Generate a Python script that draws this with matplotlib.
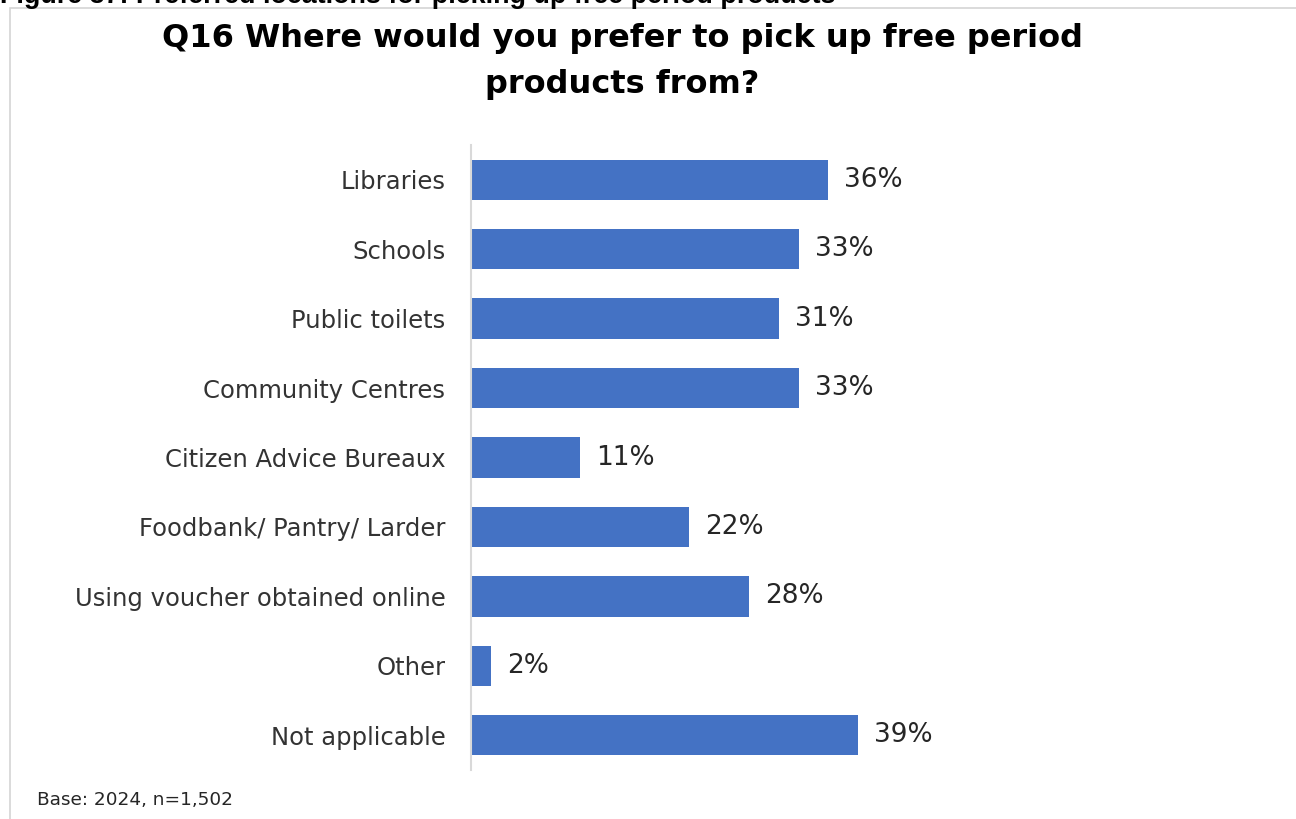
import matplotlib
matplotlib.use("Agg")
import matplotlib.pyplot as plt
from matplotlib.patches import Rectangle

categories = [
    "Libraries",
    "Schools",
    "Public toilets",
    "Community Centres",
    "Citizen Advice Bureaux",
    "Foodbank/ Pantry/ Larder",
    "Using voucher obtained online",
    "Other",
    "Not applicable",
]
values = [36, 33, 31, 33, 11, 22, 28, 2, 39]
value_labels = ["36%", "33%", "31%", "33%", "11%", "22%", "28%", "2%", "39%"]

title_lines = ["Q16 Where would you prefer to pick up free period", "products from?"]
figure_caption = "Figure 37: Preferred locations for picking up free period products"
base_note = "Base: 2024, n=1,502"

W, H = 1296, 819
fig = plt.figure(figsize=(W / 100, H / 100), dpi=100)
fig.patch.set_facecolor("white")
font = ["DejaVu Sans"]

# framed panel behind the chart
fig.patches.append(Rectangle((10 / W, -0.01), 1.0, (H - 8) / H + 0.01,
                             transform=fig.transFigure, fill=False,
                             edgecolor="#d4d4d4", linewidth=1.2))

# caption partially clipped at the top edge
fig.text(0 / W, 1 - 3 / H, figure_caption, ha="left", va="baseline",
         fontsize=19.4, fontweight="bold", color="black",
         family=["Liberation Sans", "DejaVu Sans"])

for txt, yc in zip(title_lines, [38, 85]):
    fig.text(622 / W, 1 - yc / H, txt, ha="center", va="center",
             fontsize=23, fontweight="bold", color="#000000", family=font)

left, right = 471 / W, (471 + 40 * 9.93) / W
top, bottom = 1 - 145 / H, 1 - 770 / H
ax = fig.add_axes([left, bottom, right - left, top - bottom])
y = list(range(len(categories)))
ax.barh(y, values, height=0.58, color="#4472C4")
ax.set_ylim(len(categories) - 0.5, -0.5)
ax.set_xlim(0, 40)
for yi, v, lab in zip(y, values, value_labels):
    ax.text(v + 1.6, yi, lab, ha="left", va="center", fontsize=19,
            color="#262626", family=font)

ax.set_yticks(y)
ax.set_yticklabels(categories, fontsize=17.5, color="#333333", family=font)
ax.tick_params(axis="y", length=0, pad=18.5)
ax.set_xticks([])
for s in ["top", "right", "bottom"]:
    ax.spines[s].set_visible(False)
ax.spines["left"].set_color("#d9d9d9")
ax.spines["left"].set_linewidth(1.5)

fig.text(37 / W, 1 - 800 / H, base_note, ha="left", va="center",
         fontsize=13.3, color="#262626", family=font)

fig.savefig("out.png", dpi=100, facecolor="white")
